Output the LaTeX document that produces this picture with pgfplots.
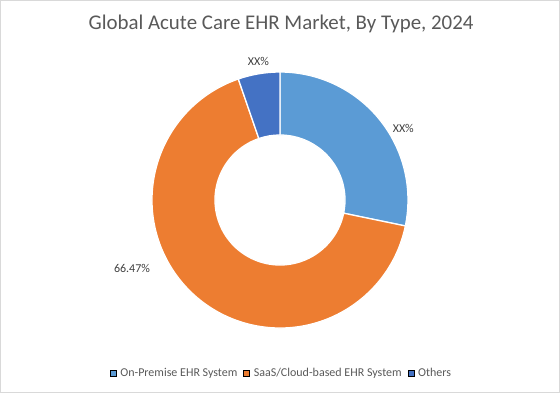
\documentclass[border=0pt]{standalone}
\usepackage{pgfplots}
\usepackage{pgfplotstable}
\pgfplotsset{compat=1.18}
\usepackage{fontspec}
\setmainfont{Carlito}
\definecolor{cOn}{HTML}{5B9BD5}
\definecolor{cSaas}{HTML}{ED7D31}
\definecolor{cOth}{HTML}{4472C4}
\definecolor{txt}{HTML}{595959}
\definecolor{lbl}{HTML}{404040}
\definecolor{frame}{HTML}{D9D9D9}
\pgfplotstableread{
type value
OnPremise 28.25
SaaS 66.47
Others 5.28
}\shares
\pgfplotstablegetelem{0}{value}\of\shares \let\vA\pgfplotsretval
\pgfplotstablegetelem{1}{value}\of\shares \let\vB\pgfplotsretval
\pgfplotstablegetelem{2}{value}\of\shares \let\vC\pgfplotsretval
\pgfmathsetmacro\aA{90}
\pgfmathsetmacro\aB{90-3.6*\vA}
\pgfmathsetmacro\aC{\aB-3.6*\vB}
\pgfmathsetmacro\aD{\aC-3.6*\vC}
\def\cx{280}\def\cy{193}\def\Ro{128}\def\Ri{65}
\newcommand\slice[3]{% color, start, end
  \filldraw[fill=#1, draw=white, line width=1.3bp]
    (axis cs:{\cx+\Ro*cos(#2)},{\cy+\Ro*sin(#2)})
    arc[start angle=#2, end angle=#3, radius=\Ro bp]
    -- (axis cs:{\cx+\Ri*cos(#3)},{\cy+\Ri*sin(#3)})
    arc[start angle=#3, end angle=#2, radius=\Ri bp] -- cycle;}
\begin{document}
\begin{tikzpicture}
\begin{axis}[
  x=1bp, y=1bp, xmin=0, xmax=560, ymin=0, ymax=393,
  hide axis, clip=false,
  legend columns=3,
  legend style={draw=none, fill=none, at={(axis cs:280.5,19.5)}, anchor=center,
    font=\fontsize{12bp}{14bp}\selectfont\color{txt},
    /tikz/every odd column/.append style={column sep=0bp},
    /tikz/every even column/.append style={column sep=6bp},
    nodes={inner xsep=0bp, inner ysep=1.5bp}},
  legend image code/.code={\fill[#1] (0bp,-3bp) rectangle (6bp,3bp); \path (0bp,0bp) (10bp,0bp);},
]
\draw[frame, line width=1bp] (axis cs:0.5,0.5) rectangle (axis cs:559.5,392.5);
\slice{cOn}{\aA}{\aB}
\slice{cSaas}{\aB}{\aC}
\slice{cOth}{\aC}{\aD}
\addlegendimage{fill=cOn}\addlegendentry{On-Premise EHR System}
\addlegendimage{fill=cSaas}\addlegendentry{SaaS/Cloud-based EHR System}
\addlegendimage{fill=cOth}\addlegendentry{Others}
\node[anchor=base, font=\fontsize{20.9bp}{24bp}\selectfont, text=txt] at (axis cs:281,363.7) {Global Acute Care EHR Market, By Type, 2024};
\node[anchor=base, font=\fontsize{12bp}{14bp}\selectfont, text=lbl] at (axis cs:258.5,327.3) {XX\%};
\node[anchor=base, font=\fontsize{12bp}{14bp}\selectfont, text=lbl] at (axis cs:403.3,260.7) {XX\%};
\node[anchor=base, font=\fontsize{12bp}{14bp}\selectfont, text=lbl] at (axis cs:132,120.7) {66.47\%};
\end{axis}
\end{tikzpicture}
\end{document}
